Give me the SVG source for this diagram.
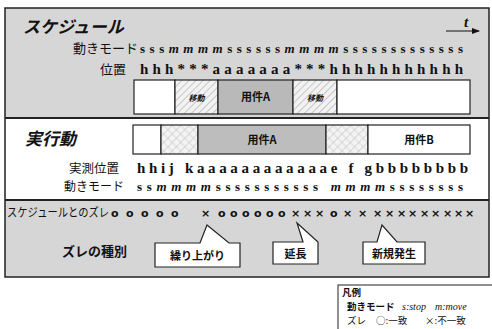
<svg xmlns="http://www.w3.org/2000/svg" width="492" height="329" viewBox="0 0 492 329">
<style>
.jp{font-family:"Noto Sans CJK JP","Noto Sans",sans-serif;fill:#111}
.ttl{font-family:"Noto Sans CJK JP",sans-serif;font-weight:bold;font-style:italic;font-size:17px;fill:#111}
.ser{font-family:"Liberation Serif",serif;font-weight:bold;fill:#111}
.box{stroke:#222;stroke-width:1.2}
.sep{stroke:#222;stroke-width:2;fill:none}
.lbl{font-family:"Noto Sans CJK JP",sans-serif;font-weight:bold;fill:#111;text-anchor:middle}
.co{fill:#fff;stroke:#222;stroke-width:1.2;stroke-linejoin:miter}
.lg{font-size:9.5px}
</style>
<defs>
<pattern id="hatch" width="5" height="5" patternUnits="userSpaceOnUse" patternTransform="rotate(45)">
<rect width="5" height="5" fill="#f2f2f2"/>
<line x1="0" y1="0" x2="0" y2="5" stroke="#9a9a9a" stroke-width="1"/>
</pattern>
<pattern id="xhatch" width="6" height="6" patternUnits="userSpaceOnUse" patternTransform="rotate(45)">
<rect width="6" height="6" fill="#f4f4f4"/>
<line x1="0" y1="0" x2="0" y2="6" stroke="#aaa" stroke-width="0.8"/>
<line x1="0" y1="3" x2="6" y2="3" stroke="#c4c4c4" stroke-width="0.6"/>
</pattern>
<marker id="arr" markerWidth="8" markerHeight="8" refX="7" refY="4" orient="auto" markerUnits="userSpaceOnUse">
<path d="M0,1 L8,4 L0,7 Z" fill="#111"/>
</marker>
</defs>
<rect width="492" height="329" fill="#fff"/>

<g id="schedule">
<rect x="5" y="8" width="484" height="110" fill="#d6d6d6"/>
<text class="ttl" x="23" y="33">スケジュール</text>
<line x1="446" y1="31" x2="479" y2="31" stroke="#111" stroke-width="1.2" marker-end="url(#arr)"/>
<text x="464" y="27" font-family="Liberation Serif,serif" font-style="italic" font-weight="bold" font-size="15" fill="#111">t</text>
<text class="jp" x="73" y="53" font-size="13">動きモード</text>
<text class="ser" x="140" y="53" font-size="13" textLength="323" lengthAdjust="spacing">sss<tspan font-style="italic">mmmm</tspan>ssssss<tspan font-style="italic">mmmm</tspan>sssssssssssss</text>
<text class="jp" x="100" y="74" font-size="13">位置</text>
<text class="ser" x="140" y="74" font-size="15" textLength="323" lengthAdjust="spacing">hhh***aaaaaaa***hhhhhhhhhhh</text>
</g>

<g id="schedule-bar">
<rect class="box" x="134" y="80" width="41" height="34" fill="#fff"/>
<rect class="box" x="175" y="80" width="43" height="34" fill="url(#hatch)"/>
<rect class="box" x="218" y="80" width="75" height="34" fill="#b9b9b9"/>
<rect class="box" x="293" y="80" width="44" height="34" fill="url(#hatch)"/>
<rect class="box" x="337" y="80" width="133" height="34" fill="#fff"/>
<text class="lbl" x="196.5" y="101" font-size="8" font-style="italic">移動</text>
<text class="lbl" x="255.5" y="101" font-size="11">用件A</text>
<text class="lbl" x="315" y="101" font-size="8" font-style="italic">移動</text>
</g>

<g id="actual">
<rect x="5" y="118" width="484" height="82" fill="#fff"/>
<text class="ttl" x="25" y="145">実行動</text>
<rect class="box" x="133" y="125" width="28" height="29" fill="#fff"/>
<rect class="box" x="161" y="125" width="37" height="29" fill="url(#xhatch)"/>
<rect class="box" x="198" y="125" width="128" height="29" fill="#bdbdbd"/>
<rect class="box" x="326" y="125" width="42" height="29" fill="url(#xhatch)"/>
<rect class="box" x="368" y="125" width="102" height="29" fill="#fff"/>
<text class="lbl" x="262" y="144" font-size="11">用件A</text>
<text class="lbl" x="419" y="144" font-size="11">用件B</text>
<text class="jp" x="69" y="173" font-size="12.5">実測位置</text>
<text class="ser" x="137" y="173" font-size="15" textLength="331" lengthAdjust="spacing">hhij kaaaaaaaaaaaae f gbbbbbbbb</text>
<text class="jp" x="64" y="191" font-size="12">動きモード</text>
<text class="ser" x="137" y="191" font-size="13" textLength="326" lengthAdjust="spacing">ss<tspan font-style="italic">mmmm</tspan>sssssssssss <tspan font-style="italic">mmmm</tspan>ssssssss</text>
</g>

<g id="deviation">
<rect x="5" y="200" width="484" height="77" fill="#d6d6d6"/>
<text class="jp" x="7" y="217" font-size="12" textLength="102" lengthAdjust="spacingAndGlyphs">スケジュールとのズレ</text>
<text x="111 126 141 156 171 201 218 230 242 254 266 278 291 303 315 330 343 358 373 385 397 408 420 431 443 454 465" y="217" font-family="DejaVu Sans,sans-serif" font-weight="bold" font-size="11" fill="#111">ooooo×oooooo×××o×××××××××××</text>
<text class="jp" x="62" y="256" font-size="13" font-weight="bold">ズレの種別</text>
</g>

<g id="callout-1">
<path class="co" d="M155,243 H200 L207,225 L229,243 H240 V267 H155 Z"/>
<text class="lbl" x="197.5" y="260" font-size="11">繰り上がり</text>
</g>
<g id="callout-2">
<path class="co" d="M273,242 H303 L297,223 L318,242 V264 H273 Z"/>
<text class="lbl" x="295.5" y="258" font-size="11">延長</text>
</g>
<g id="callout-3">
<path class="co" d="M363,242 H377 L382,225 L397,242 H425 V264 H363 Z"/>
<text class="lbl" x="394" y="258" font-size="11">新規発生</text>
</g>

<g id="frame">
<rect x="5" y="8" width="484" height="269" fill="none" stroke="#222" stroke-width="1.5"/>
<line class="sep" x1="5" y1="118" x2="489" y2="118"/>
<line class="sep" x1="5" y1="200" x2="489" y2="200"/>
</g>

<g id="legend">
<rect x="338" y="285" width="160" height="50" fill="#fff" stroke="#222" stroke-width="1"/>
<text class="jp lg" x="342" y="296" font-weight="bold">凡例</text>
<text class="jp lg" x="347" y="310" font-weight="bold">動きモード</text>
<text x="402" y="310" font-family="Liberation Serif,serif" font-style="italic" font-size="10" fill="#111">s:stop</text>
<text x="435" y="310" font-family="Liberation Serif,serif" font-style="italic" font-size="10" fill="#111">m:move</text>
<text class="jp lg" x="347" y="324">ズレ</text>
<text class="jp lg" x="376" y="324">○:一致</text>
<text class="jp lg" x="425" y="324">×:不一致</text>
</g>
</svg>
